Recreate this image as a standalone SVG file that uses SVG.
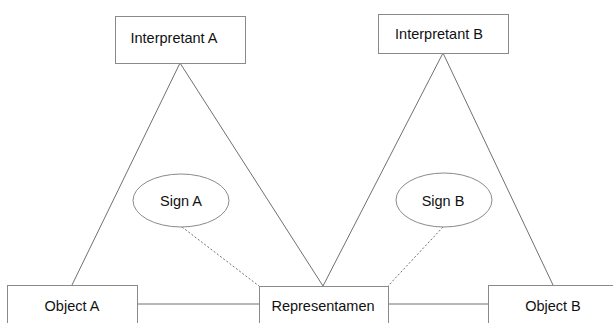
<svg xmlns="http://www.w3.org/2000/svg" width="613" height="323" viewBox="0 0 613 323">
<style>
.box{fill:#fff;stroke:#8a8a8a;stroke-width:1}
.ell{fill:#fff;stroke:#8a8a8a;stroke-width:1}
.ln{stroke:#707070;stroke-width:1;fill:none}
.dot{stroke:#707070;stroke-width:1;stroke-dasharray:2,2;fill:none}
text{font-family:"Liberation Sans",Arial,sans-serif;font-size:14.5px;fill:#111;text-anchor:middle}
</style>
<rect width="613" height="323" fill="#fff"/>
<g id="connectors">
<line class="ln" x1="180" y1="63" x2="72" y2="285"/>
<line class="ln" x1="180" y1="63" x2="323" y2="286"/>
<line class="ln" x1="443" y1="53" x2="323" y2="286"/>
<line class="ln" x1="443" y1="53" x2="553" y2="285"/>
<line class="ln" x1="137" y1="304" x2="259" y2="304"/>
<line class="ln" x1="388" y1="304" x2="488" y2="304"/>
<line class="dot" x1="182" y1="227" x2="259" y2="286"/>
<line class="dot" x1="443" y1="227" x2="388" y2="286"/>
</g>
<g id="interpretantA"><rect class="box" x="115.5" y="16.5" width="130" height="47"/><text x="174" y="43">Interpretant A</text></g>
<g id="interpretantB"><rect class="box" x="378.5" y="14.5" width="130" height="39"/><text x="439" y="39">Interpretant B</text></g>
<g id="signA"><ellipse class="ell" cx="181" cy="200.5" rx="48" ry="26.5"/><text x="181" y="206">Sign A</text></g>
<g id="signB"><ellipse class="ell" cx="444" cy="200" rx="48" ry="27"/><text x="443" y="206">Sign B</text></g>
<g id="objectA"><rect class="box" x="7.5" y="285.5" width="130" height="45"/><text x="72" y="311">Object A</text></g>
<g id="representamen"><rect class="box" x="259.5" y="286.5" width="129" height="45"/><text x="323" y="311">Representamen</text></g>
<g id="objectB"><rect class="box" x="488.5" y="285.5" width="130" height="45"/><text x="553" y="311">Object B</text></g>
</svg>
